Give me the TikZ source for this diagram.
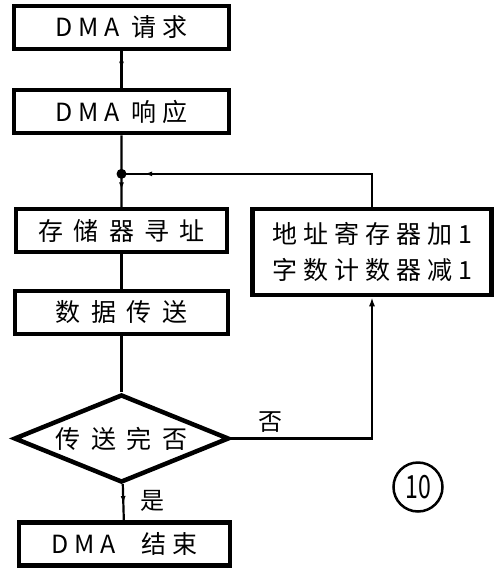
\documentclass[tikz,border=0pt]{standalone}
\usepackage{fontspec}
\usepackage{graphicx}
\setmainfont{Noto Sans CJK SC}
\newfontfamily\cjkwide[LetterSpace=42]{Noto Sans CJK SC}
\newfontfamily\cjkmid[LetterSpace=24]{Noto Sans CJK SC}
\usetikzlibrary{shapes.geometric, arrows.meta, positioning, calc, decorations.markings}
\tikzset{
  process/.style   = {rectangle, draw, line width=4.5pt, align=center,
                      minimum width=215pt, minimum height=43pt,
                      font=\cjkwide\fontsize{25}{28}\selectfont, inner sep=2pt},
  counter/.style   = {rectangle, draw, line width=4.5pt, align=center,
                      minimum width=239pt, minimum height=86pt,
                      font=\cjkmid\fontsize{25}{36}\selectfont, inner sep=2pt},
  decision/.style  = {diamond, draw, line width=4.5pt, align=center, aspect=2.45,
                      minimum width=215pt, minimum height=88pt, inner sep=0pt,
                      font=\cjkwide\fontsize{25}{28}\selectfont},
  flow/.style      = {line width=2.2pt},
  flowtip/.style   = {flow, -{Latex[length=9pt,width=6pt]}},
  midarrow/.style  = {flow, postaction={decorate},
                      decoration={markings, mark=at position #1 with
                      {\arrow{Latex[length=8pt,width=5pt]}}}},
  midarrow/.default = 0.5,
  flowlab/.style   = {font=\fontsize{24}{28}\selectfont, inner sep=2pt},
  tagring/.style   = {circle, draw, line width=2.5pt, minimum size=49pt, inner sep=0pt,
                      font=\fontsize{32}{32}\selectfont},
}
\begin{document}
\begin{tikzpicture}[x=1pt, y=-1pt]
  \useasboundingbox (0,0) rectangle (497,579);
  \node[process] (req) at (121.5,27.5) {\cjkmid DMA 请求};
  \node[process, below=36.5pt of req] (ack) {\cjkmid DMA 响应};
  \node[process, below=71.5pt of ack, minimum width=211pt] (addr) {存储器寻址};
  \node[process, below=34.5pt of addr, minimum width=213pt] (xfer) {数据传送};
  \node[decision, below=56pt of xfer] (done) {传送完否};
  \node[process, below=35.5pt of done, minimum width=211pt, xshift=3pt] (fin)
    {\cjkmid DMA\hspace{26pt}结束};
  \node[counter, right=21pt of addr.north east, anchor=north west] (cnt)
    {地址寄存器加1\\字数计数器减1};
  \coordinate (join) at ($(ack.south)!0.54!(addr.north)$);
  \node[tagring] (tag) at (418,487) {\scalebox{0.72}[1]{10}};

  \draw[midarrow] (req) -- (ack);
  \draw[flow] (ack) -- (join);
  \draw[midarrow] (join) -- (addr);
  \draw[flow] (addr) -- (xfer);
  \draw[flow] (xfer) -- (done);
  \draw[midarrow=0.55] (done) -- (fin) node[flowlab, right, pos=0.45, xshift=14pt] {是};
  \draw[flowtip] (done.east) -| (cnt.south) node[flowlab, above, pos=0.14, yshift=3pt] {否};
  \draw[midarrow=0.92] (cnt.north) |- (join);
  \fill (join) circle (5pt);
\end{tikzpicture}
\end{document}
